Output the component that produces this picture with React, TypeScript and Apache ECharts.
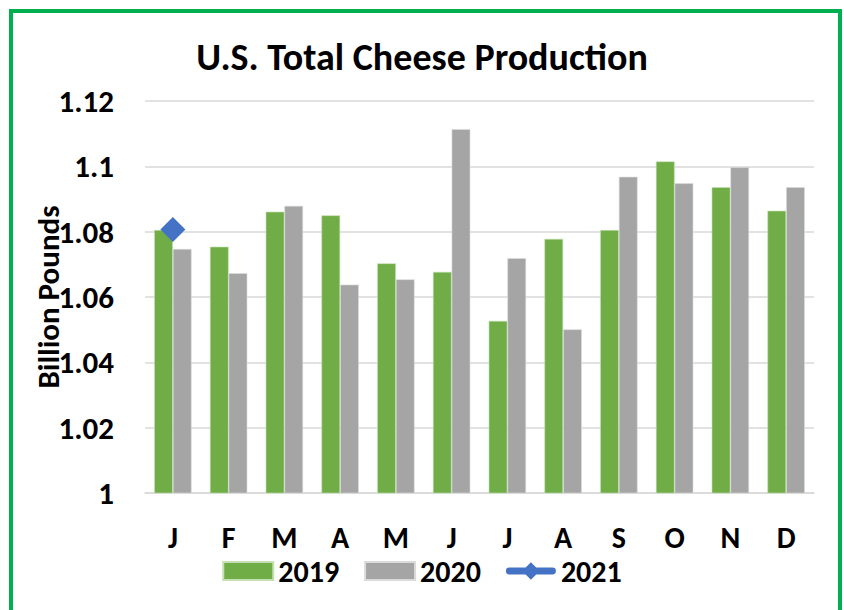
import React, { useEffect, useRef } from "react";
import * as echarts from "echarts";

const months = ["J", "F", "M", "A", "M", "J", "J", "A", "S", "O", "N", "D"];
const values2019 = [1.0805, 1.0754, 1.0861, 1.085, 1.0703, 1.0677, 1.0527, 1.0778, 1.0805, 1.1015, 1.0936, 1.0864];
const values2020 = [1.0747, 1.0673, 1.0879, 1.0638, 1.0654, 1.1114, 1.0719, 1.0501, 1.0968, 1.0948, 1.0997, 1.0936];
const values2021 = [1.0807];
const yTicks = { min: 1, max: 1.12, interval: 0.02 };

const FONT = "Carlito, Lato, 'Noto Sans', sans-serif";
const LINE_ICON = "path://M3,5.5 L47,5.5 A3.5,3.5 0 0 1 47,12.5 L3,12.5 A3.5,3.5 0 0 1 3,5.5 Z M25,0 L34,9 L25,18 L16,9 Z";

export default function App() {
  const ref = useRef<HTMLDivElement>(null);
  useEffect(() => {
    document.body.style.margin = "0";
    const chart = echarts.init(ref.current!, null, { renderer: "svg" });
    chart.setOption({
      animation: false,
      backgroundColor: "#ffffff",
      title: {
        text: "U.S. Total Cheese Production",
        left: "center",
        top: 33,
        textStyle: { fontFamily: FONT, fontWeight: "bold", fontSize: 38, color: "#000" },
      },
      graphic: [
        {
          type: "rect",
          shape: { x: 11, y: 11, width: 829, height: 640 },
          style: { fill: "none", stroke: "#00B050", lineWidth: 4 },
          silent: true,
        },
      ],
      grid: { left: 145, right: 30, top: 101, bottom: 117 },
      legend: {
        bottom: 19,
        left: "center",
        itemWidth: 50,
        itemHeight: 18,
        itemGap: 25,
        textStyle: { fontFamily: FONT, fontWeight: "bold", fontSize: 30, color: "#000" },
        data: [
          { name: "2019", icon: "rect" },
          { name: "2020", icon: "rect" },
          { name: "2021", icon: LINE_ICON, itemStyle: { color: "#4472C4" } },
        ],
      },
      xAxis: {
        type: "category",
        data: months,
        axisTick: { show: false },
        axisLine: { lineStyle: { color: "#D9D9D9", width: 1.5 } },
        axisLabel: { margin: 29, fontFamily: FONT, fontWeight: "bold", fontSize: 30, color: "#000" },
      },
      yAxis: {
        type: "value",
        min: yTicks.min,
        max: yTicks.max,
        interval: yTicks.interval,
        name: "Billion Pounds",
        nameLocation: "middle",
        nameRotate: 90,
        nameGap: 82,
        nameMoveOverlap: false,
        nameTextStyle: { fontFamily: FONT, fontWeight: "bold", fontSize: 31, color: "#000" },
        axisLine: { show: false },
        axisTick: { show: false },
        splitLine: { lineStyle: { color: "#D9D9D9", width: 1.5 } },
        axisLabel: {
          margin: 31,
          fontFamily: FONT,
          fontWeight: "bold",
          fontSize: 31,
          color: "#000",
          formatter: (v: number) => String(Math.round(v * 100) / 100),
        },
      },
      series: [
        {
          name: "2019",
          type: "bar",
          data: values2019,
          barGap: "0%",
          barCategoryGap: "33%",
          itemStyle: { color: "#70AD47", borderColor: "#C5E0B4", borderWidth: 0.6 },
        },
        {
          name: "2020",
          type: "bar",
          data: values2020,
          barGap: "0%",
          barCategoryGap: "33%",
          itemStyle: { color: "#A5A5A5", borderColor: "#DBDBDB", borderWidth: 0.6 },
        },
        {
          name: "2021",
          type: "line",
          data: values2021,
          symbol: "diamond",
          symbolSize: 25,
          lineStyle: { color: "#4472C4", width: 7 },
          itemStyle: { color: "#4472C4" },
        },
      ],
    });
    return () => chart.dispose();
  }, []);
  return <div ref={ref} style={{ position: "absolute", left: 0, top: 0, width: 844, height: 610 }} />;
}
